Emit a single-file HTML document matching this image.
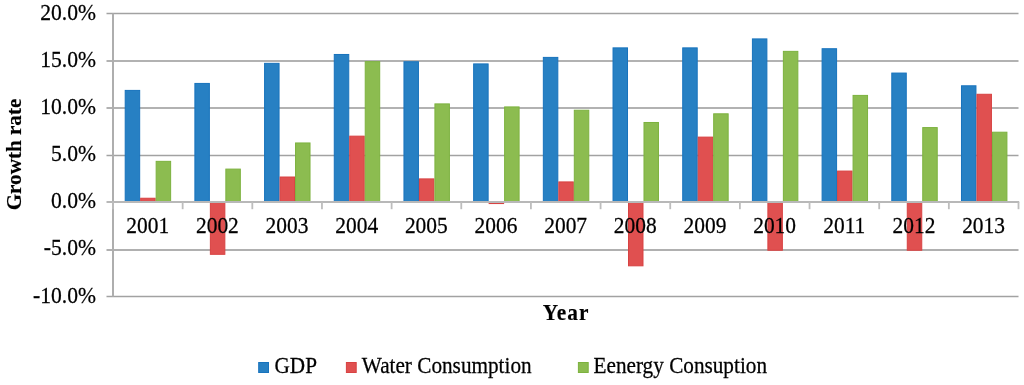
<!DOCTYPE html>
<html><head><meta charset="utf-8"><style>
html,body{margin:0;padding:0;background:#fff;width:1024px;height:385px;overflow:hidden}
svg{display:block;will-change:transform}
.t{font-family:"Liberation Serif",serif;font-size:22px;fill:#000;stroke:#000;stroke-width:0.25px}
.b{font-weight:bold;stroke-width:0.15px}
</style></head><body>
<svg width="1024" height="385" viewBox="0 0 1024 385">
<line x1="106.5" y1="13.50" x2="1018.50" y2="13.50" stroke="#A2A2A2" stroke-width="1.5"/>
<line x1="106.5" y1="61.00" x2="1018.50" y2="61.00" stroke="#B2B2B2" stroke-width="2"/>
<line x1="106.5" y1="108.00" x2="1018.50" y2="108.00" stroke="#B2B2B2" stroke-width="2"/>
<line x1="106.5" y1="155.50" x2="1018.50" y2="155.50" stroke="#A2A2A2" stroke-width="1.5"/>
<line x1="106.5" y1="250.00" x2="1018.50" y2="250.00" stroke="#B0B0B0" stroke-width="2"/>
<line x1="106.5" y1="296.50" x2="1018.50" y2="296.50" stroke="#A2A2A2" stroke-width="1.5"/>
<line x1="113.0" y1="13.5" x2="113.0" y2="296.5" stroke="#AEAEAE" stroke-width="2"/>
<rect x="125.20" y="90.41" width="14.48" height="111.09" fill="#2780C3" stroke="#1873BD" stroke-width="1"/>
<rect x="140.68" y="198.24" width="14.48" height="3.26" fill="#E05050" stroke="#D84242" stroke-width="1"/>
<rect x="156.16" y="161.35" width="14.48" height="40.15" fill="#8CBC50" stroke="#7DB23F" stroke-width="1"/>
<rect x="194.89" y="83.43" width="14.48" height="118.07" fill="#2780C3" stroke="#1873BD" stroke-width="1"/>
<rect x="210.37" y="202.50" width="14.48" height="51.81" fill="#E05050" stroke="#D84242" stroke-width="1"/>
<rect x="225.85" y="169.09" width="14.48" height="32.41" fill="#8CBC50" stroke="#7DB23F" stroke-width="1"/>
<rect x="264.58" y="63.34" width="14.48" height="138.16" fill="#2780C3" stroke="#1873BD" stroke-width="1"/>
<rect x="280.06" y="177.01" width="14.48" height="24.49" fill="#E05050" stroke="#D84242" stroke-width="1"/>
<rect x="295.54" y="142.96" width="14.48" height="58.54" fill="#8CBC50" stroke="#7DB23F" stroke-width="1"/>
<rect x="334.27" y="54.47" width="14.48" height="147.03" fill="#2780C3" stroke="#1873BD" stroke-width="1"/>
<rect x="349.75" y="136.16" width="14.48" height="65.34" fill="#E05050" stroke="#D84242" stroke-width="1"/>
<rect x="365.23" y="61.64" width="14.48" height="139.86" fill="#8CBC50" stroke="#7DB23F" stroke-width="1"/>
<rect x="403.96" y="61.74" width="14.48" height="139.76" fill="#2780C3" stroke="#1873BD" stroke-width="1"/>
<rect x="419.44" y="178.90" width="14.48" height="22.60" fill="#E05050" stroke="#D84242" stroke-width="1"/>
<rect x="434.92" y="103.90" width="14.48" height="97.60" fill="#8CBC50" stroke="#7DB23F" stroke-width="1"/>
<rect x="473.65" y="63.91" width="14.48" height="137.59" fill="#2780C3" stroke="#1873BD" stroke-width="1"/>
<rect x="488.63" y="202.00" width="15.48" height="2.06" fill="#D84242"/>
<rect x="504.61" y="106.92" width="14.48" height="94.58" fill="#8CBC50" stroke="#7DB23F" stroke-width="1"/>
<rect x="543.34" y="57.40" width="14.48" height="144.10" fill="#2780C3" stroke="#1873BD" stroke-width="1"/>
<rect x="558.82" y="181.92" width="14.48" height="19.58" fill="#E05050" stroke="#D84242" stroke-width="1"/>
<rect x="574.30" y="110.22" width="14.48" height="91.28" fill="#8CBC50" stroke="#7DB23F" stroke-width="1"/>
<rect x="613.03" y="47.87" width="14.48" height="153.63" fill="#2780C3" stroke="#1873BD" stroke-width="1"/>
<rect x="628.51" y="202.50" width="14.48" height="63.32" fill="#E05050" stroke="#D84242" stroke-width="1"/>
<rect x="643.99" y="122.49" width="14.48" height="79.01" fill="#8CBC50" stroke="#7DB23F" stroke-width="1"/>
<rect x="682.72" y="47.87" width="14.48" height="153.63" fill="#2780C3" stroke="#1873BD" stroke-width="1"/>
<rect x="698.20" y="137.11" width="14.48" height="64.39" fill="#E05050" stroke="#D84242" stroke-width="1"/>
<rect x="713.68" y="113.81" width="14.48" height="87.69" fill="#8CBC50" stroke="#7DB23F" stroke-width="1"/>
<rect x="752.41" y="38.91" width="14.48" height="162.59" fill="#2780C3" stroke="#1873BD" stroke-width="1"/>
<rect x="767.89" y="202.50" width="14.48" height="47.75" fill="#E05050" stroke="#D84242" stroke-width="1"/>
<rect x="783.37" y="51.36" width="14.48" height="150.14" fill="#8CBC50" stroke="#7DB23F" stroke-width="1"/>
<rect x="822.10" y="48.72" width="14.48" height="152.78" fill="#2780C3" stroke="#1873BD" stroke-width="1"/>
<rect x="837.58" y="171.07" width="14.48" height="30.43" fill="#E05050" stroke="#D84242" stroke-width="1"/>
<rect x="853.06" y="95.41" width="14.48" height="106.09" fill="#8CBC50" stroke="#7DB23F" stroke-width="1"/>
<rect x="891.79" y="73.06" width="14.48" height="128.44" fill="#2780C3" stroke="#1873BD" stroke-width="1"/>
<rect x="907.27" y="202.50" width="14.48" height="47.75" fill="#E05050" stroke="#D84242" stroke-width="1"/>
<rect x="922.75" y="127.58" width="14.48" height="73.92" fill="#8CBC50" stroke="#7DB23F" stroke-width="1"/>
<rect x="961.48" y="85.79" width="14.48" height="115.71" fill="#2780C3" stroke="#1873BD" stroke-width="1"/>
<rect x="976.96" y="94.28" width="14.48" height="107.22" fill="#E05050" stroke="#D84242" stroke-width="1"/>
<rect x="992.44" y="132.20" width="14.48" height="69.30" fill="#8CBC50" stroke="#7DB23F" stroke-width="1"/>
<line x1="106.5" y1="202.0" x2="1019.2" y2="202.0" stroke="#B8B8B8" stroke-width="2"/>
<line x1="113.00" y1="202.0" x2="113.00" y2="209.2" stroke="#BDBDBD" stroke-width="1.8"/>
<line x1="182.65" y1="202.0" x2="182.65" y2="209.2" stroke="#BDBDBD" stroke-width="1.8"/>
<line x1="252.31" y1="202.0" x2="252.31" y2="209.2" stroke="#BDBDBD" stroke-width="1.8"/>
<line x1="321.96" y1="202.0" x2="321.96" y2="209.2" stroke="#BDBDBD" stroke-width="1.8"/>
<line x1="391.62" y1="202.0" x2="391.62" y2="209.2" stroke="#BDBDBD" stroke-width="1.8"/>
<line x1="461.27" y1="202.0" x2="461.27" y2="209.2" stroke="#BDBDBD" stroke-width="1.8"/>
<line x1="530.92" y1="202.0" x2="530.92" y2="209.2" stroke="#BDBDBD" stroke-width="1.8"/>
<line x1="600.58" y1="202.0" x2="600.58" y2="209.2" stroke="#BDBDBD" stroke-width="1.8"/>
<line x1="670.23" y1="202.0" x2="670.23" y2="209.2" stroke="#BDBDBD" stroke-width="1.8"/>
<line x1="739.88" y1="202.0" x2="739.88" y2="209.2" stroke="#BDBDBD" stroke-width="1.8"/>
<line x1="809.54" y1="202.0" x2="809.54" y2="209.2" stroke="#BDBDBD" stroke-width="1.8"/>
<line x1="879.19" y1="202.0" x2="879.19" y2="209.2" stroke="#BDBDBD" stroke-width="1.8"/>
<line x1="948.85" y1="202.0" x2="948.85" y2="209.2" stroke="#BDBDBD" stroke-width="1.8"/>
<line x1="1018.50" y1="202.0" x2="1018.50" y2="209.2" stroke="#BDBDBD" stroke-width="1.8"/>
<text transform="translate(96,19.50) scale(0.982,1.04)" text-anchor="end" class="t">20.0%</text>
<text transform="translate(96,66.67) scale(0.982,1.04)" text-anchor="end" class="t">15.0%</text>
<text transform="translate(96,113.83) scale(0.982,1.04)" text-anchor="end" class="t">10.0%</text>
<text transform="translate(96,161.00) scale(0.982,1.04)" text-anchor="end" class="t">5.0%</text>
<text transform="translate(96,208.17) scale(0.982,1.04)" text-anchor="end" class="t">0.0%</text>
<text transform="translate(96,255.33) scale(0.982,1.04)" text-anchor="end" class="t">-5.0%</text>
<text transform="translate(96,302.50) scale(0.982,1.04)" text-anchor="end" class="t">-10.0%</text>
<text transform="translate(147.73,232.8) scale(0.975,1.07)" text-anchor="middle" class="t">2001</text>
<text transform="translate(217.38,232.8) scale(0.975,1.07)" text-anchor="middle" class="t">2002</text>
<text transform="translate(287.03,232.8) scale(0.975,1.07)" text-anchor="middle" class="t">2003</text>
<text transform="translate(356.69,232.8) scale(0.975,1.07)" text-anchor="middle" class="t">2004</text>
<text transform="translate(426.34,232.8) scale(0.975,1.07)" text-anchor="middle" class="t">2005</text>
<text transform="translate(496.00,232.8) scale(0.975,1.07)" text-anchor="middle" class="t">2006</text>
<text transform="translate(565.65,232.8) scale(0.975,1.07)" text-anchor="middle" class="t">2007</text>
<text transform="translate(635.30,232.8) scale(0.975,1.07)" text-anchor="middle" class="t">2008</text>
<text transform="translate(704.96,232.8) scale(0.975,1.07)" text-anchor="middle" class="t">2009</text>
<text transform="translate(774.61,232.8) scale(0.975,1.07)" text-anchor="middle" class="t">2010</text>
<text transform="translate(844.27,232.8) scale(0.975,1.07)" text-anchor="middle" class="t">2011</text>
<text transform="translate(913.92,232.8) scale(0.975,1.07)" text-anchor="middle" class="t">2012</text>
<text transform="translate(983.57,232.8) scale(0.975,1.07)" text-anchor="middle" class="t">2013</text>
<text transform="translate(566.1,320.0) scale(0.97,1.03)" text-anchor="middle" letter-spacing="1" class="t b">Year</text>
<text transform="translate(21.4,154.5) rotate(-90) scale(0.961,1)" text-anchor="middle" class="t b">Growth rate</text>
<rect x="258.70" y="362.5" width="9.8" height="10" fill="#2780C3" stroke="#1873BD" stroke-width="1"/>
<text transform="translate(274.50,372.7) scale(0.965,1.04)" class="t">GDP</text>
<rect x="346.40" y="362.5" width="9.8" height="10" fill="#E05050" stroke="#D84242" stroke-width="1"/>
<text transform="translate(361.80,372.7) scale(0.965,1.04)" class="t">Water Consumption</text>
<rect x="578.40" y="362.5" width="9.8" height="10" fill="#8CBC50" stroke="#7DB23F" stroke-width="1"/>
<text transform="translate(593.50,372.7) scale(0.965,1.04)" class="t">Eenergy Consuption</text>
</svg>
</body></html>
